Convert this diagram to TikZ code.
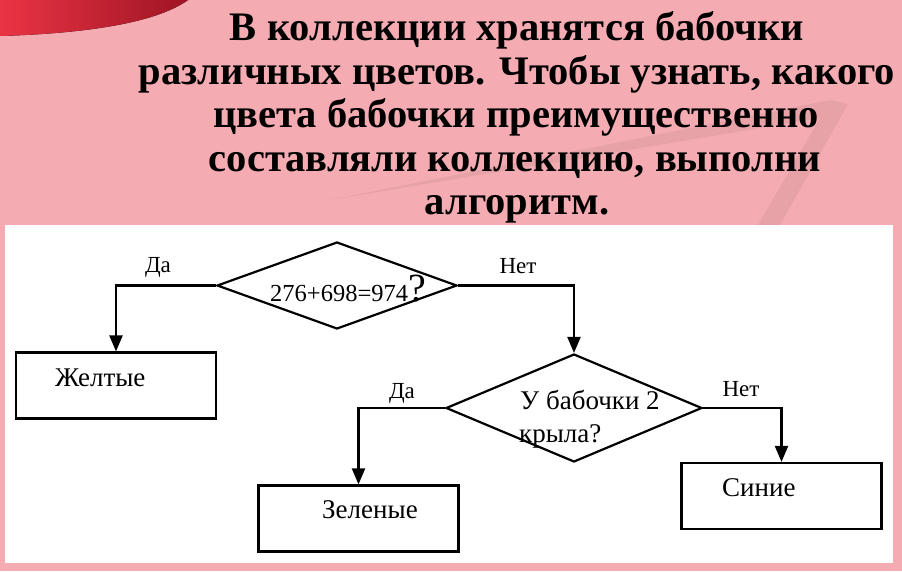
\documentclass[tikz,border=0pt]{standalone}
\usepackage{fontspec}
\setmainfont{Liberation Serif}
\usetikzlibrary{arrows.meta,shapes.geometric}
\definecolor{slidepink}{RGB}{244,171,178}
\definecolor{swooshred}{RGB}{234,52,68}
\definecolor{swooshdark}{RGB}{158,20,36}
\newcommand{\linewd}{2.2pt}
\newcommand{\boxfont}{\fontsize{27}{30}\selectfont}

\begin{document}
\begin{tikzpicture}[x=1pt,y=-1pt,
  block/.style={draw, line width=\linewd, minimum width=200pt, minimum height=66pt, inner sep=0pt},
  decision/.style={draw, diamond, line width=\linewd, inner sep=0pt},
  flow/.style={line width=\linewd, -{Triangle[width=13pt,length=16pt]}},
  answer/.style={anchor=base, inner sep=0pt, font=\fontsize{23}{25}\selectfont},
  txt/.style={anchor=base west, inner sep=0pt, font=\boxfont},
  heading/.style={anchor=base, inner sep=0pt, font=\fontsize{40.5}{44}\selectfont\bfseries}]
\useasboundingbox (0,0) rectangle (902,571);
%slide
\fill[slidepink] (0,0) rectangle (902,571);
\fill[left color=swooshred, right color=swooshdark] (0,0) -- (188,0) .. controls (160,20) and (100,33) .. (0,36) -- cycle;
\fill[black, opacity=0.05] (330,200) -- (830,100) -- (848,104) -- (780,225) -- (758,225) -- (820,118) -- cycle;
%title
\node[heading] (t1) at (517,40) {В коллекции хранятся бабочки};
\node[heading] (t2) at (517,84) {различных цветов. Чтобы узнать, какого};
\node[heading] (t3) at (516,127) {цвета бабочки преимущественно};
\node[heading] (t4) at (515,171) {составляли коллекцию, выполни};
\node[heading] (t5) at (517,214) {алгоритм.};
%panel
\fill[white] (5,225) rectangle (893,563);
%shapes
\node[decision, minimum width=240pt, minimum height=87pt] (q1) at (337,285.5) {};
\node[decision, minimum width=256pt, minimum height=108pt] (q2) at (574,408) {};
\node[block] (yellow) at (116,385.5) {};
\node[block] (green) at (358.5,518.5) {};
\node[block] (blue) at (781.5,496) {};
%texts
\node[txt, font=\fontsize{24.5}{28}\selectfont] (sum) at (270,301) {276+698=974{\fontsize{40}{40}\selectfont ?}};
\node[txt] (ask1) at (520,409) {У бабочки 2};
\node[txt] (ask2) at (519,442) {крыла?};
\node[txt] (yellowtxt) at (55,386) {Желтые};
\node[txt] (greentxt) at (322,518) {Зеленые};
\node[txt] (bluetxt) at (722,496) {Синие};
\node[answer] (yes1) at (158,272) {Да};
\node[answer] (no1) at (518,273) {Нет};
\node[answer] (yes2) at (402,398) {Да};
\node[answer] (no2) at (741,396) {Нет};
%arrows
\draw[flow] (q1.west) -| (yellow.north);
\draw[flow] (q1.east) -| (q2.north);
\draw[flow] (q2.west) -| (green.north);
\draw[flow] (q2.east) -| (blue.north);
\end{tikzpicture}
\end{document}
